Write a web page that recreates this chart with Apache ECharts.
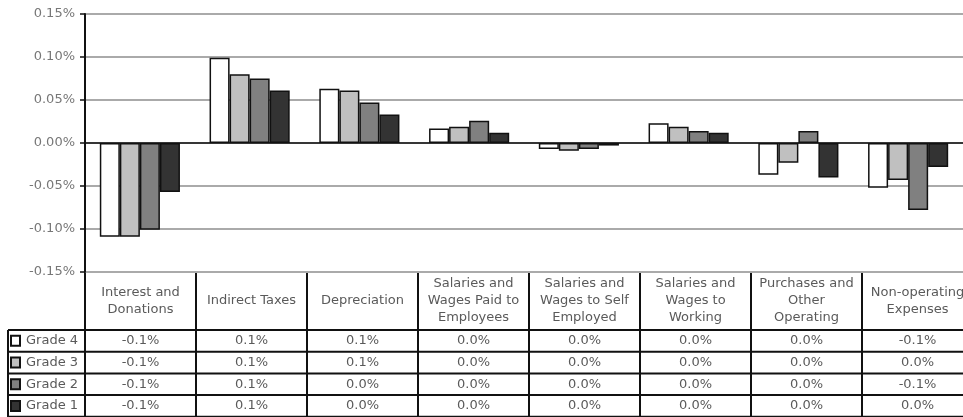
<!DOCTYPE html>
<html>
<head>
<meta charset="utf-8">
<script src="https://cdn.jsdelivr.net/npm/echarts@6/dist/echarts.min.js"></script>
<style>
  html, body { margin: 0; padding: 0; background: #fff; }
  #main { width: 963px; height: 417px; }
</style>
</head>
<body>
<div id="main"></div>
<script>
// categories (header row of the data table)
var categories = ['Interest and\nDonations', 'Indirect Taxes', 'Depreciation',
  'Salaries and\nWages Paid to\nEmployees', 'Salaries and\nWages to Self\nEmployed',
  'Salaries and\nWages to\nWorking', 'Purchases and\nOther\nOperating', 'Non-operating\nExpenses'];

// series names, in the order they are drawn
var seriesNames = ['Grade 4', 'Grade 3', 'Grade 2', 'Grade 1'];

// values in percent
var grade4 = [-0.109, 0.099, 0.063, 0.017, -0.007, 0.023, -0.037, -0.052];
var grade3 = [-0.109, 0.080, 0.061, 0.019, -0.009, 0.019, -0.023, -0.043];
var grade2 = [-0.101, 0.075, 0.047, 0.026, -0.007, 0.014, 0.014, -0.078];
var grade1 = [-0.057, 0.061, 0.033, 0.012, -0.003, 0.012, -0.040, -0.028];

var yTicks = [-0.15, -0.10, -0.05, 0, 0.05, 0.10, 0.15];

var seriesData = [grade4, grade3, grade2, grade1];
var colors = ['#ffffff', '#c0c0c0', '#808080', '#333333'];

// layout
var gridLeft = 85, gridTop = 14, gridH = 258;
var catW = 111;
var gridW = catW * categories.length;
var tableTop = gridTop + gridH;   // 272
var headH = 58;
var rowH = 21.7;
var legendLeft = 8;
var lineColor = '#111';
var txtColor = '#5a5a5a';
var font = '13px Verdana, "DejaVu Sans", sans-serif';

function fmt(v) {
  var r = Math.round(v * 10) / 10;
  if (r === 0) r = 0;
  return r.toFixed(1) + '%';
}

var graphic = [];
var rightEdge = gridLeft + gridW;
// horizontal lines
graphic.push({ type: 'line', shape: { x1: gridLeft, y1: tableTop, x2: rightEdge, y2: tableTop }, style: { stroke: lineColor, lineWidth: 2 } });
for (var r = 0; r <= seriesNames.length; r++) {
  var yy = tableTop + headH + r * rowH;
  graphic.push({ type: 'line', shape: { x1: legendLeft, y1: yy, x2: rightEdge, y2: yy }, style: { stroke: lineColor, lineWidth: 2 } });
}
// vertical lines
graphic.push({ type: 'line', shape: { x1: legendLeft, y1: tableTop + headH, x2: legendLeft, y2: 417 }, style: { stroke: lineColor, lineWidth: 2 } });
for (var c = 0; c <= categories.length; c++) {
  var xx = gridLeft + c * catW;
  graphic.push({ type: 'line', shape: { x1: xx, y1: tableTop, x2: xx, y2: 417 }, style: { stroke: lineColor, lineWidth: 2 } });
}
// header text
categories.forEach(function (name, i) {
  graphic.push({
    type: 'text', x: gridLeft + (i + 0.5) * catW, y: tableTop + headH / 2,
    style: { text: name, fill: txtColor, font: font, align: 'center', verticalAlign: 'middle', lineHeight: 17 }
  });
});
// rows
seriesNames.forEach(function (name, s) {
  var cy = tableTop + headH + (s + 0.5) * rowH;
  graphic.push({ type: 'rect', shape: { x: 11, y: cy - 5, width: 9, height: 10 }, style: { fill: colors[s], stroke: lineColor, lineWidth: 2 } });
  graphic.push({ type: 'text', x: 26, y: cy, style: { text: name, fill: txtColor, font: font, align: 'left', verticalAlign: 'middle' } });
  seriesData[s].forEach(function (v, i) {
    graphic.push({
      type: 'text', x: gridLeft + (i + 0.5) * catW, y: cy,
      style: { text: fmt(v), fill: txtColor, font: font, align: 'center', verticalAlign: 'middle' }
    });
  });
});

var series = seriesNames.map(function (name, s) {
  return {
    name: name,
    type: 'bar',
    data: seriesData[s],
    barGap: '0%',
    barCategoryGap: '27%',
    itemStyle: { color: colors[s], borderColor: '#111', borderWidth: 1.5 },
    silent: true
  };
});

var chart = echarts.init(document.getElementById('main'));
var option = {
  animation: false,
  backgroundColor: '#fff',
  grid: { left: gridLeft, top: gridTop, width: gridW, height: gridH },
  xAxis: {
    type: 'category',
    data: categories,
    axisLine: { onZero: true, lineStyle: { color: '#111', width: 1.5 } },
    axisTick: { show: false },
    axisLabel: { show: false },
    splitLine: { show: false }
  },
  yAxis: {
    type: 'value',
    min: yTicks[0],
    max: yTicks[yTicks.length - 1],
    interval: 0.05,
    axisLine: { show: true, lineStyle: { color: '#111', width: 2 } },
    axisTick: { show: true, length: 5, lineStyle: { color: '#111', width: 1.5 } },
    axisLabel: {
      color: '#777', fontSize: 13, fontFamily: 'Verdana, "DejaVu Sans", sans-serif', margin: 10,
      formatter: function (v) { return v.toFixed(2) + '%'; }
    },
    splitLine: { lineStyle: { color: '#aaa', width: 2 } }
  },
  graphic: graphic,
  series: series
};
chart.setOption(option);
</script>
</body>
</html>
